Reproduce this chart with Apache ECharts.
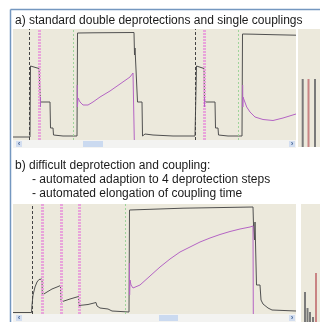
<!DOCTYPE html>
<html><head><meta charset="utf-8">
<script src="https://cdn.jsdelivr.net/npm/echarts@6/dist/echarts.min.js"></script>
<style>html,body{margin:0;padding:0;background:#fff}#c{width:320px;height:322px}</style>
</head><body><div id="c"></div>
<script>
// ---- Data (x: time units, y: absorbance units) ----
const titleA = "a) standard double deprotections and single couplings";
const titleB = ["b) difficult deprotection and coupling:", "- automated adaption to 4 deprotection steps", "- automated elongation of coupling time"];

// Panel a
const blackA = [[0,3],[17,3],[17.5,74],[18.5,72],[26,71.5],[27,71],[27.5,38],[28,38.5],[37,38],[37.5,12],[40,12],[40.5,5],[50,4],[64,4],[64.5,107],[80,107.2],[121,107.5],[121.5,85],[122,92],[124,91],[124.5,38],[125,40],[129,38],[129.5,4],[132,6],[140,5],[160,4],[182,4],[183,4],[183.5,74],[184.5,72],[191,71.5],[191.5,38],[192,38.5],[202,38],[202.5,12],[205,12],[205.5,5],[215,4],[229,4],[229.5,106],[240,105.8],[260,105.3],[283,104.8]];
const magentaA1 = [[27.5,43],[27.5,33]];
const magentaA2 = [[64.2,55],[64.4,33],[65,42],[67,38],[70,35],[72,34],[75,35],[80,38],[87,43],[97,49],[107,56],[117,63],[120,67],[121,68],[121.3,0]];
const magentaA3 = [[191.5,43],[191.5,33]];
const magentaA4 = [[229.7,55],[229.8,33],[230,43],[233.7,33],[237,28],[242,23],[250,20.5],[260,19.5],[270,22],[283,26]];
const deprotStartA = [16, 182];
const deprotEndA = [26.5, 191];
const couplingA = [60, 225];
const barsAx = [4.7, 10.5, 17];
const barsAh = [68, 68, 68];
const barsAred = [false, true, false];

// Panel b
const blackB = [[0,1.5],[18.5,1.5],[19,9],[20,19],[22,27],[24,32],[26,34.5],[28,35.5],[29,35],[29.3,19],[30,18],[34,22],[39,25],[44,27],[47.5,28.5],[48,12],[49,12],[57,15],[65.5,17.5],[66,8.5],[75,9.5],[77,11],[83,11.5],[84,8],[87,6],[95,5],[99,3],[116,2],[116.3,2],[116.5,104],[118,105],[170,105.8],[240,107],[240.5,89],[241.5,74],[242,92],[243,92],[243.5,29],[245,30],[247,29],[248,14],[249,14],[250,10],[252,8],[255,6],[259,4],[283,3]];
const magentaB = [[116.4,51],[116.6,19],[117,34],[118,29],[120,26],[122,26],[127,29],[137,38],[147,47],[157,55],[167,62],[177,67],[187,72],[197,76],[207,79.5],[217,82.5],[227,85],[237,87],[240,88],[240.3,0]];
const deprotStartB = [19];
const deprotEndB = [29, 48, 66];
const couplingB = [112];
const barsBx = [4, 6.5, 9, 12, 15];
const barsBh = [30, 14, 10, 5, 49];
const barsBred = [false, false, false, false, true];

// ---- Styles ----
const BG = '#ece9dc', BLACK = '#505050', MAG = '#b464c4', PINK = '#e8a4da', GREEN = '#9ed49a', GREY = '#7a7a7a', RED = '#c98484';
const hidden = {show:false};
function xAx(i, max){return {gridIndex:i,type:'value',min:0,max:max,show:false,splitLine:hidden};}
function yAx(i, max){return {gridIndex:i,type:'value',min:0,max:max,show:false,splitLine:hidden};}
function line(i, data, color, z){return {type:'line',xAxisIndex:i,yAxisIndex:i,data:data,showSymbol:false,symbol:'none',lineStyle:{color:color,width:1},z:z||3,silent:true,animation:false};}
function markers(i, starts, ends, coup){
  const d = [];
  starts.forEach(x=>d.push({xAxis:x,lineStyle:{color:'#444',width:1,type:[3,2]}}));
  ends.forEach(x=>d.push({xAxis:x,lineStyle:{color:PINK,width:3,type:[2,1]}}));
  coup.forEach(x=>d.push({xAxis:x,lineStyle:{color:GREEN,width:1,type:[2,2]}}));
  return {type:'line',xAxisIndex:i,yAxisIndex:i,data:[],z:2,silent:true,animation:false,
    markLine:{symbol:'none',silent:true,animation:false,label:{show:false},data:d}};
}
function bars(i, xs, hs, reds){
  return {type:'bar',xAxisIndex:i,yAxisIndex:i,barWidth:2,silent:true,animation:false,
    data:xs.map((x,k)=>({value:[x,hs[k]],itemStyle:{color:reds[k]?RED:GREY}}))};
}
function scrollbar(y, x0, x1){
  return [
    {type:'rect',shape:{x:13,y:y,width:283,height:8},style:{fill:'#f3f3f1'}},
    {type:'rect',shape:{x:16,y:y+1,width:6,height:6},style:{fill:'#d3def0'}},
    {type:'text',style:{text:'‹',x:19,y:y+4,fill:'#4a6a9a',font:'bold 8px "Liberation Sans"',align:'center',verticalAlign:'middle'}},
    {type:'rect',shape:{x:x0,y:y+1,width:x1-x0,height:6},style:{fill:'#cbdaf0'}},
    {type:'rect',shape:{x:289,y:y+1,width:6,height:6},style:{fill:'#d3def0'}},
    {type:'text',style:{text:'›',x:292,y:y+4,fill:'#4a6a9a',font:'bold 8px "Liberation Sans"',align:'center',verticalAlign:'middle'}}
  ];
}
const FONT = '12px "Liberation Sans", Arial, sans-serif';
const chart = echarts.init(document.getElementById('c'), null, {renderer:'canvas'});
chart.setOption({
  backgroundColor:'#ffffff',
  animation:false,
  grid:[
    {left:13,top:29,width:283,height:111,show:true,backgroundColor:BG,borderWidth:0},
    {left:298,top:29,width:22,height:118,show:true,backgroundColor:BG,borderWidth:0},
    {left:13,top:204,width:283,height:110,show:true,backgroundColor:BG,borderWidth:0},
    {left:301,top:204,width:19,height:118,show:true,backgroundColor:BG,borderWidth:0}
  ],
  xAxis:[xAx(0,283),xAx(1,22),xAx(2,283),xAx(3,19)],
  yAxis:[yAx(0,111),yAx(1,118),yAx(2,110),yAx(3,118)],
  series:[
    markers(0, deprotStartA, deprotEndA, couplingA),
    line(0, blackA, BLACK, 4),
    line(0, magentaA1, MAG, 5),
    line(0, magentaA2, MAG, 5),
    line(0, magentaA3, MAG, 5),
    line(0, magentaA4, MAG, 5),
    bars(1, barsAx, barsAh, barsAred),
    markers(2, deprotStartB, deprotEndB, couplingB),
    line(2, blackB, BLACK, 4),
    line(2, magentaB, MAG, 5),
    bars(3, barsBx, barsBh, barsBred)
  ],
  graphic:[
    {type:'line',shape:{x1:10.5,y1:9.5,x2:320,y2:9.5},style:{stroke:'#7497c0',lineWidth:1.5}},
    {type:'line',shape:{x1:10.5,y1:9.5,x2:10.5,y2:322},style:{stroke:'#7497c0',lineWidth:1.5}},
    {type:'text',style:{text:titleA,x:15,y:20.5,fill:'#1a1a1a',font:FONT,verticalAlign:'middle'}},
    {type:'text',style:{text:titleB[0],x:15,y:166,fill:'#1a1a1a',font:FONT,verticalAlign:'middle'}},
    {type:'text',style:{text:titleB[1],x:32,y:180,fill:'#1a1a1a',font:FONT,verticalAlign:'middle'}},
    {type:'text',style:{text:titleB[2],x:32,y:193.5,fill:'#1a1a1a',font:FONT,verticalAlign:'middle'}}
  ].concat(scrollbar(140, 83, 103)).concat(scrollbar(314, 159, 178))
});
</script></body></html>
